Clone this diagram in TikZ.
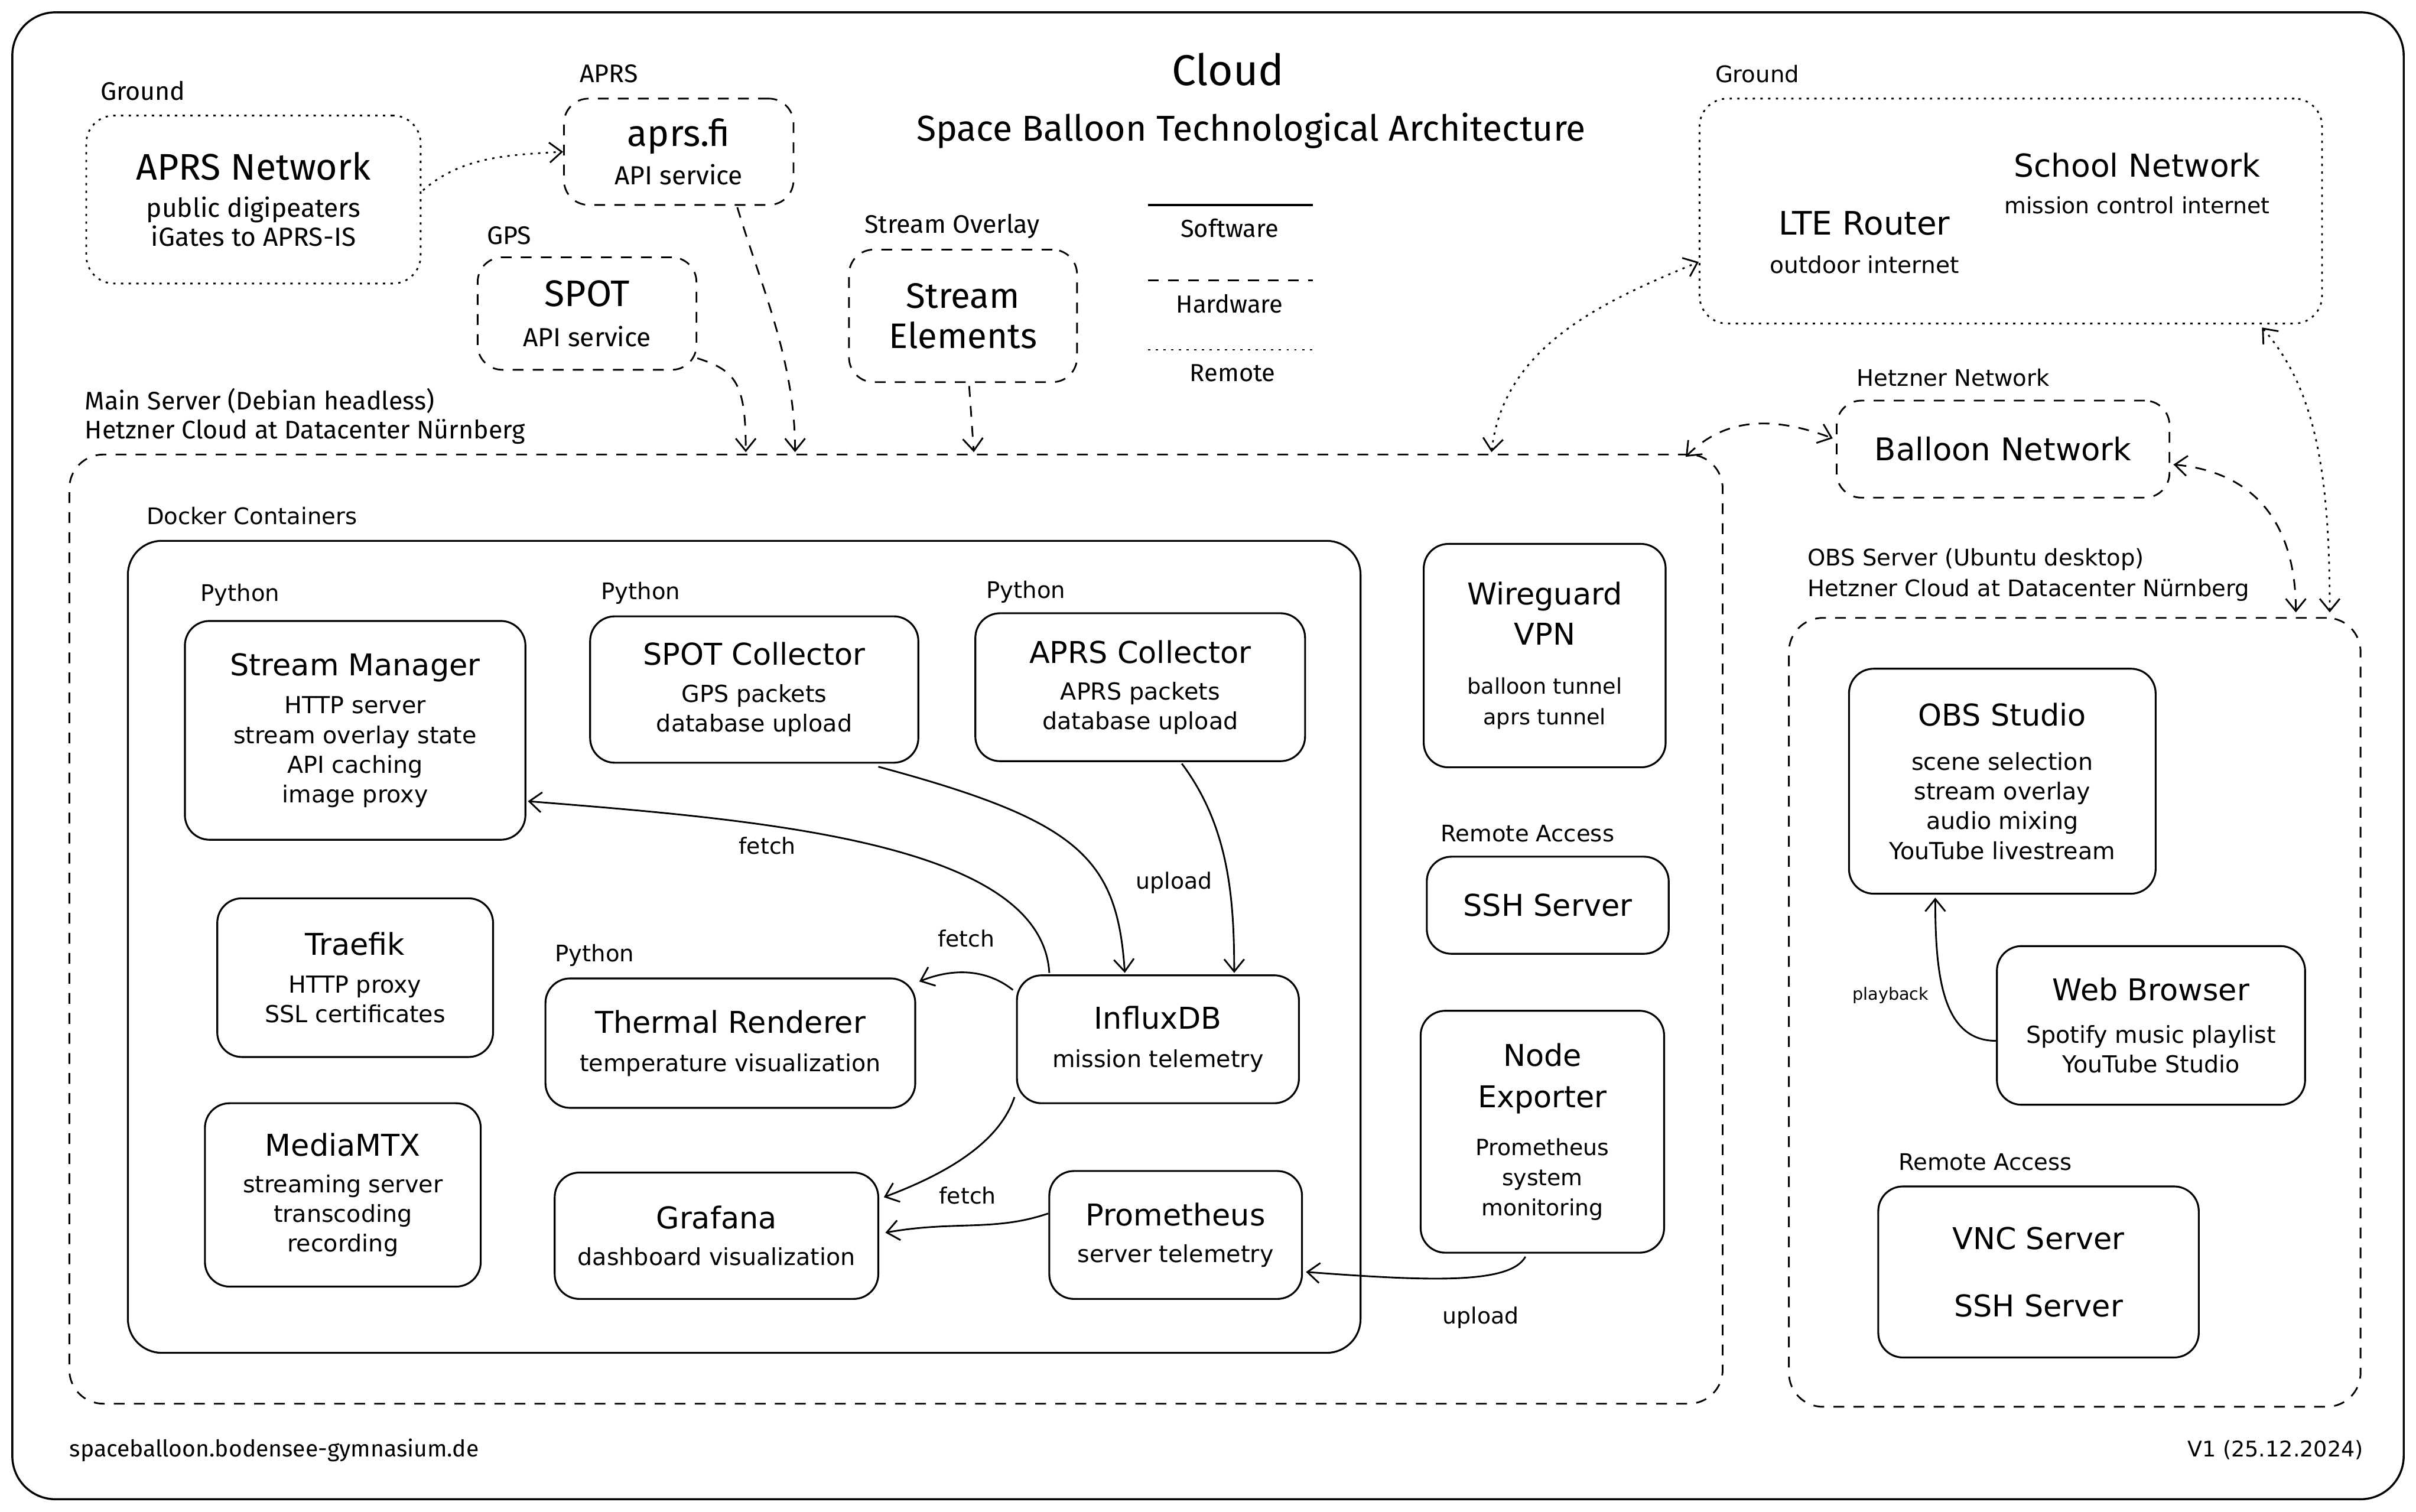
\documentclass[tikz,border=0pt]{standalone}
\usepackage{fontspec}
\setmainfont{Fira Sans}
\newfontfamily\xf{DejaVu Sans}
\usetikzlibrary{arrows.meta,calc}
\newcommand\fsz[2]{\fontsize{#1}{#2}\selectfont}
\newcommand\ttl[1]{{\fsz{19.5}{24}#1}}
\newcommand\vttl[1]{{\fsz{24}{28}#1}}
\begin{document}
\begin{tikzpicture}[x=1pt,y=-1pt,
  solidbox/.style={draw,line width=1.2pt,rounded corners=16pt,inner sep=0pt,align=center,font=\xf\fsz{15.2}{19.3}},
  hwbox/.style={draw,line width=1.1pt,dash pattern=on 7pt off 6pt,rounded corners=16pt,inner sep=0pt,align=center},
  rmbox/.style={draw,line width=1.1pt,dash pattern=on 1.5pt off 3.5pt,rounded corners=18pt,inner sep=0pt,align=center},
  sz/.style 2 args={minimum width=#1pt,minimum height=#2pt},
  lbl/.style={anchor=west,inner sep=0pt,font=\fsz{16.5}{21}},
  xlbl/.style={anchor=west,inner sep=0pt,font=\xf\fsz{14.8}{19}},
  elbl/.style={inner sep=0pt,font=\xf\fsz{14.5}{18}},
  arrowend/.style={-{Straight Barb[length=8pt,width=13pt]}},
  arrowboth/.style={{Straight Barb[length=8pt,width=13pt]}-{Straight Barb[length=8pt,width=13pt]}},
  link/.style={line width=1.1pt},
  hwline/.style={line width=1.1pt,dash pattern=on 7pt off 6pt},
  rmline/.style={line width=1.1pt,dash pattern=on 1.5pt off 3.5pt},
]
\fill[white] (0,0) rectangle (1568,981);
\path[use as bounding box] (0,0) rectangle (1568,981);
\draw[line width=1.3pt,rounded corners=28pt] (8,8) rectangle (1560,973);

% titles
\node (title) at (797,45) {\fsz{28}{32}Cloud};
\node (subtitle) at (812,85) {\fsz{23.3}{28}Space Balloon Technological Architecture};

% legend
\draw[line width=1.7pt] (745,133) -- (852,133);
\node (lsw) at (798,148) {\fsz{16}{20}Software};
\draw[hwline] (745,182) -- (852,182);
\node (lhw) at (798,197) {\fsz{16}{20}Hardware};
\draw[rmline] (745,227) -- (852,227);
\node (lrm) at (800,242) {\fsz{16}{20}Remote};

% top-left external services
\node[lbl] (lground1) at (65,59) {Ground};
\node[rmbox,sz={217}{109},font=\fsz{17}{19}] (apn) at (164.5,129.5) {\vttl{APRS Network}\\[5pt]public digipeaters\\iGates to APRS-IS};
\node[lbl] (laprs) at (376,48) {APRS};
\node[hwbox,sz={149}{69},font=\fsz{17}{19}] (aprsfi) at (440.5,98.5) {\vttl{aprs.fi}\\[6pt]API service};
\node[lbl] (lgps) at (316,153) {GPS};
\node[hwbox,sz={142}{73},font=\fsz{17}{19}] (spot) at (381,203.5) {\vttl{SPOT}\\[7pt]API service};
\node[lbl] (lso) at (561,147) {Stream Overlay};
\node[hwbox,sz={148}{86},font=\fsz{23}{26}] (se) at (625,205) {Stream\\Elements};

% right-top ground
\node[xlbl] (lground2) at (1113,48) {Ground};
\node[rmbox,sz={404}{146}] (ground2) at (1305,137) {};
\node[align=center,font=\xf\fsz{14.5}{18}] (school) at (1387,119) {{\fsz{20.5}{24}School Network}\\[6pt]mission control internet};
\node[align=center,font=\xf\fsz{15}{18}] (lte) at (1210,157.5) {{\fsz{21}{24}LTE Router}\\[7pt]outdoor internet};

\node[xlbl] (lhetz) at (1205,245) {Hetzner Network};
\node[hwbox,sz={216}{63},font=\xf\fsz{20.3}{24}] (bn) at (1300,291.5) {Balloon Network};

% main server
\node[lbl] (lmain1) at (55,260) {Main Server (Debian headless)};
\node[lbl] (lmain2) at (55,280) {Hetzner Cloud at Datacenter Nürnberg};
\node[hwbox,rounded corners=22pt,sz={1073}{616}] (main) at (581.5,603) {};

\node[xlbl] (ldocker) at (95,335) {Docker Containers};
\node[draw,line width=1.2pt,rounded corners=22pt,sz={800}{527}] (docker) at (483,614.5) {};

\node[xlbl] (lpy1) at (130,386) {Python};
\node[solidbox,sz={221}{142}] (sm) at (230.5,474) {\ttl{Stream Manager}\\[5.5pt]HTTP server\\stream overlay state\\API caching\\image proxy};
\node[xlbl] (lpy2) at (390,385) {Python};
\node[solidbox,sz={213}{95}] (spotc) at (489.5,447.5) {\ttl{SPOT Collector}\\[4.5pt]GPS packets\\database upload};
\node[xlbl] (lpy3) at (640,384) {Python};
\node[solidbox,sz={214}{96}] (aprsc) at (740,446) {\ttl{APRS Collector}\\[4.5pt]APRS packets\\database upload};
\node[solidbox,sz={179}{103}] (traefik) at (230.5,634.5) {\ttl{Traefik}\\[5pt]HTTP proxy\\SSL certificates};
\node[solidbox,sz={179}{119}] (mtx) at (222.5,775.5) {\ttl{MediaMTX}\\[4.5pt]streaming server\\transcoding\\recording};
\node[xlbl] (lpy4) at (360,620) {Python};
\node[solidbox,sz={240}{84}] (thermal) at (474,677) {\ttl{Thermal Renderer}\\[5.5pt]temperature visualization};
\node[solidbox,sz={183}{83}] (influx) at (751.5,674.5) {\ttl{InfluxDB}\\[5.5pt]mission telemetry};
\node[solidbox,sz={210}{82}] (grafana) at (465,802) {\ttl{Grafana}\\[4.5pt]dashboard visualization};
\node[solidbox,sz={164}{83}] (prom) at (763,801.5) {\ttl{Prometheus}\\[4.5pt]server telemetry};

\node[solidbox,sz={157}{145},font=\xf\fsz{14}{20}] (wg) at (1002.5,425.5) {\ttl{Wireguard}\\[6pt]\ttl{VPN}\\[12pt]balloon tunnel\\aprs tunnel};
\node[xlbl] (lra1) at (935,541) {Remote Access};
\node[solidbox,sz={157}{63}] (ssh) at (1004.5,587.5) {\ttl{SSH Server}};
\node[solidbox,sz={158}{157},font=\xf\fsz{14.5}{19.5}] (nodeexp) at (1001,734.5) {\ttl{Node}\\[7.5pt]\ttl{Exporter}\\[11.5pt]Prometheus\\system\\monitoring};

% OBS server
\node[xlbl] (lobs1) at (1173,363) {OBS Server (Ubuntu desktop)};
\node[xlbl] (lobs2) at (1173,383) {Hetzner Cloud at Datacenter Nürnberg};
\node[hwbox,rounded corners=22pt,sz={371}{512}] (obs) at (1346.5,657) {};
\node[solidbox,sz={199}{146}] (obsst) at (1299.5,507) {\ttl{OBS Studio}\\[9.5pt]scene selection\\stream overlay\\audio mixing\\YouTube livestream};
\node[solidbox,sz={200}{103}] (web) at (1396,665.5) {\ttl{Web Browser}\\[8.5pt]Spotify music playlist\\YouTube Studio};
\node[xlbl] (lra2) at (1232,754) {Remote Access};
\node[solidbox,sz={208}{111}] (vnc) at (1323,825.5) {\ttl{VNC Server}\\[24.5pt]\ttl{SSH Server}};

% footer
\node[anchor=west,inner sep=0pt,font=\fsz{15}{20}] (url) at (45,941) {spaceballoon.bodensee-gymnasium.de};
\node[anchor=east,inner sep=0pt,font=\xf\fsz{14}{18}] (ver) at (1534,941) {V1 (25.12.2024)};

% external connectors
\draw[rmline,arrowend] ($(apn.east)+(1,-6)$) .. controls +(25,-22) and +(-35,2) .. (aprsfi.west);
\draw[hwline,arrowend] ($(aprsfi.south)+(38,1)$) .. controls +(15,50) and +(0,-60) .. ($(main.north)+(-65.5,-1)$);
\draw[hwline,arrowend] ($(spot.east)+(0,29)$) .. controls +(25,8) and +(0,-45) .. ($(main.north)+(-97.5,-1)$);
\draw[hwline,arrowend] ($(se.south)+(4,2)$) -- ($(main.north)+(50.5,-1)$);
\draw[rmline,arrowboth] ($(main.north)+(386.5,-1)$) .. controls +(8,-70) and +(-60,25) .. ($(ground2.west)+(0,33)$);
\draw[hwline,arrowboth] ($(main.north)+(512.5,2)$) .. controls +(25,-25) and +(-40,-15) .. ($(bn.west)+(-2,-7)$);
\draw[hwline,arrowboth] ($(bn.east)+(2,10)$) .. controls +(55,5) and +(0,-55) .. ($(obs.north)+(143.5,-3)$);
\draw[rmline,arrowboth] ($(ground2.south)+(163,2)$) .. controls +(35,40) and +(0,-90) .. ($(obs.north)+(165.5,-3)$);

% inner connectors
\draw[link,arrowend] ($(spotc.south)+(80.5,2)$) .. controls +(130,35) and +(-5,-75) .. ($(influx.north)+(-21.5,-1)$);
\draw[link,arrowend] ($(aprsc.south)+(27,1)$) .. controls +(30,40) and +(0,-50) .. ($(influx.north)+(49.5,-1)$);
\draw[link,arrowend] ($(influx.north)+(-70.5,-1)$) .. controls +(-5,-85) and +(150,12) .. ($(sm.east)+(1,46)$);
\draw[link,arrowend] ($(influx.west)+(-2,-32)$) .. controls +(-15,-12) and +(25,-10) .. ($(thermal.east)+(2,-40)$);
\draw[link,arrowend] ($(influx.west)+(-1,37.5)$) .. controls +(-10,30) and +(40,-15) .. ($(grafana.east)+(3,-25)$);
\draw[link,arrowend] ($(prom.west)+(0,-14)$) .. controls +(-35,12) and +(45,-8) .. ($(grafana.east)+(4,-2)$);
\draw[link,arrowend] ($(nodeexp.south)+(-11,2)$) .. controls +(-10,18) and +(80,6) .. ($(prom.east)+(2,24)$);
\draw[link,arrowend] ($(web.west)+(0,10)$) .. controls +(-35,0) and +(0,50) .. ($(obsst.south)+(-43.5,2)$);

% connector labels
\node[elbl] (e1) at (498,549) {fetch};
\node[elbl] (e2) at (762,573) {upload};
\node[elbl] (e3) at (627,609) {fetch};
\node[elbl] (e4) at (628,776) {fetch};
\node[elbl] (e5) at (961,855) {upload};
\node[inner sep=0pt,font=\xf\fsz{11}{14}] (e6) at (1227,646) {playback};
\end{tikzpicture}
\end{document}
